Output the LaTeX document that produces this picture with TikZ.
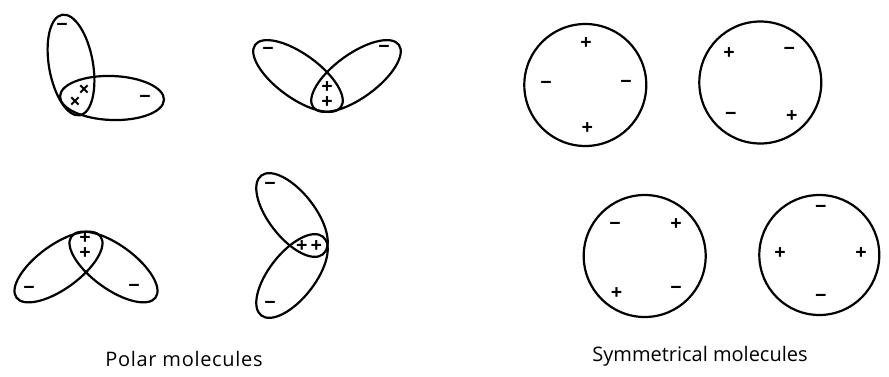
\documentclass[tikz,border=0pt]{standalone}
\usepackage{fontspec}
\setmainfont{Open Sans}
\usepackage{tikz}

\begin{document}
\begin{tikzpicture}[x=1pt, y=1pt,
    lobe/.style={draw=black, line width=2.2pt},
    sign/.style={inner sep=0pt, font=\fontsize{20}{15}\selectfont\bfseries},
    pair/.style={sign, align=center},
    caption/.style={anchor=base, inner sep=0pt, font=\fontsize{20}{22}\selectfont}]

    \useasboundingbox (0,0) rectangle (889,376);

    % polar molecules
    \draw [lobe] (71,311) ellipse [x radius=22, y radius=51, rotate=10];
    \draw [lobe] (112,278) ellipse [x radius=52, y radius=22, rotate=-2];
    \node [sign] (pa1) at (62,349) {−};
    \node [sign] (pa2) at (145,277) {−};
    \node [sign] (pa3) at (84,285) {×};
    \node [sign] (pa4) at (75,273) {×};

    \draw [lobe] (298,300) ellipse [x radius=53, y radius=22, rotate=-36];
    \draw [lobe] (356,300) ellipse [x radius=53, y radius=22, rotate=36];
    \node [sign] (pb1) at (268,325) {−};
    \node [sign] (pb2) at (384,327) {−};
    \node [pair] (pb3) at (327,281) {+\\+};

    \draw [lobe] (58.5,109) ellipse [x radius=52, y radius=22, rotate=36];
    \draw [lobe] (113.5,109) ellipse [x radius=52, y radius=22, rotate=-36];
    \node [pair] (pc1) at (85,130) {+\\+};
    \node [sign] (pc3) at (29,86) {−};
    \node [sign] (pc4) at (134,88) {−};

    \draw [lobe] (292,161) ellipse [x radius=50, y radius=23, rotate=-52];
    \draw [lobe] (292,100) ellipse [x radius=50, y radius=23, rotate=52];
    \node [sign] (pd1) at (270,190) {−};
    \node [sign] (pd2) at (270,71) {−};
    \node [sign] (pd3) at (309,129) {+\kern3pt+};

    \node [caption] (polar) at (184,9.3) {\addfontfeature{LetterSpace=3.5}Polar molecules};

    % symmetrical molecules
    \draw [lobe] (585.3,291) circle [radius=61];
    \node [sign] (sa1) at (586,332) {+};
    \node [sign] (sa2) at (546,290.7) {−};
    \node [sign] (sa3) at (626,291.7) {−};
    \node [sign] (sa4) at (587.3,247) {+};

    \draw [lobe] (760.3,293.5) circle [radius=61];
    \node [sign] (sb1) at (729,322.7) {+};
    \node [sign] (sb2) at (789.3,325) {−};
    \node [sign] (sb3) at (730.7,259.3) {−};
    \node [sign] (sb4) at (791.7,259.3) {+};

    \draw [lobe] (644.7,120) circle [radius=61];
    \node [sign] (sc1) at (615,150) {−};
    \node [sign] (sc2) at (676,151) {+};
    \node [sign] (sc3) at (616.7,82) {+};
    \node [sign] (sc4) at (676,85.3) {−};

    \draw [lobe] (819.3,121) circle [radius=60];
    \node [sign] (sd1) at (820.7,167) {−};
    \node [sign] (sd2) at (780,122) {+};
    \node [sign] (sd3) at (861,122) {+};
    \node [sign] (sd4) at (820.7,77.7) {−};

    \node [caption] (symm) at (700,14.3) {Symmetrical molecules};
\end{tikzpicture}
\end{document}
